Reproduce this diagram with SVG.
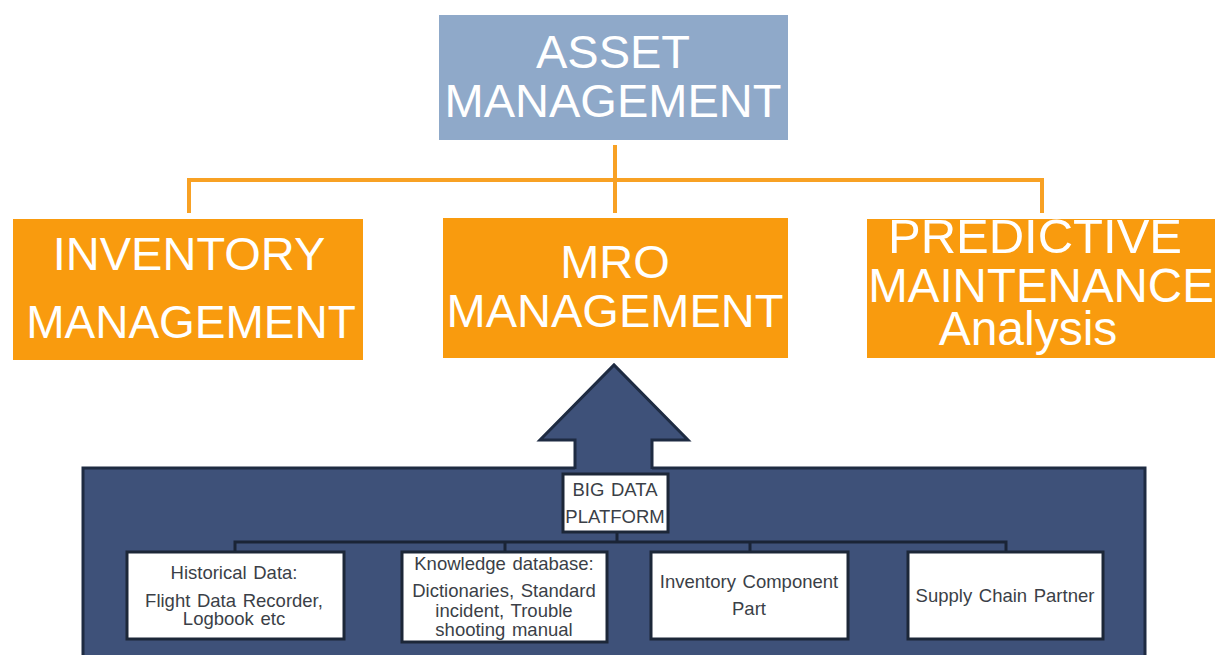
<svg xmlns="http://www.w3.org/2000/svg" width="1215" height="655" viewBox="0 0 1215 655">
<style>
.big{font-family:"Liberation Sans",Arial,sans-serif;fill:#ffffff;text-anchor:middle}
.small{font-family:"Liberation Sans",Arial,sans-serif;fill:#3b3f47;text-anchor:middle;font-size:18.5px;word-spacing:1.5px}
.orange{fill:#f99b0e}
.wbox{fill:#ffffff;stroke:#1c2738;stroke-width:3}
.oline{fill:none;stroke:#f8a124;stroke-width:4}
.dline{fill:none;stroke:#1a2436;stroke-width:3}
</style>
<rect width="1215" height="655" fill="#ffffff"/>
<g id="connectors">
<path class="oline" d="M615 145 V213 M189 213 V180 H1042 V213"/>
</g>
<g id="asset-management">
<rect x="439" y="15" width="349" height="125" fill="#8fa9c9"/>
<text class="big" font-size="47" x="613" y="68">ASSET</text>
<text class="big" font-size="47" x="613" y="117">MANAGEMENT</text>
</g>
<g id="inventory-management">
<rect class="orange" x="13" y="219" width="350" height="141"/>
<text class="big" font-size="47" x="189" y="270">INVENTORY</text>
<text class="big" font-size="46" x="191" y="338">MANAGEMENT</text>
</g>
<g id="mro-management">
<rect class="orange" x="443" y="218" width="345" height="140"/>
<text class="big" font-size="47" x="615" y="278">MRO</text>
<text class="big" font-size="47" x="615" y="327">MANAGEMENT</text>
</g>
<g id="predictive-maintenance">
<rect class="orange" x="867" y="219" width="348" height="139"/>
<text class="big" font-size="49" x="1035" y="253">PREDICTIVE</text>
<text class="big" font-size="47.5" x="1041" y="302">MAINTENANCE</text>
<text class="big" font-size="48" x="1028" y="345">Analysis</text>
</g>
<g id="big-data-platform-area">
<rect x="83" y="468" width="1062" height="200" fill="#3e5179" stroke="#1e2b42" stroke-width="3"/>
<path d="M575 471 V440 H540 L614 365 L688 440 H652 V471 Z" fill="#3e5179"/>
<path d="M575 469 V440 H540 L614 365 L688 440 H652 V469" fill="none" stroke="#1e2b42" stroke-width="3" stroke-linejoin="miter"/>
</g>
<g id="bottom-connectors">
<path class="dline" d="M617 532 V542 M235 553 V542 H1006 V553 M505 542 V553 M750 542 V553"/>
</g>
<g id="big-data-platform">
<rect class="wbox" x="563" y="474" width="105" height="58"/>
<text class="small" x="615" y="496">BIG DATA</text>
<text class="small" x="615" y="523">PLATFORM</text>
</g>
<g id="historical-data">
<rect class="wbox" x="127" y="552" width="217" height="87"/>
<text class="small" x="234" y="579">Historical Data:</text>
<text class="small" x="234" y="607">Flight Data Recorder,</text>
<text class="small" x="234" y="625">Logbook etc</text>
</g>
<g id="knowledge-database">
<rect class="wbox" x="402" y="552" width="205" height="90"/>
<text class="small" x="504" y="570">Knowledge database:</text>
<text class="small" x="504" y="597">Dictionaries, Standard</text>
<text class="small" x="504" y="617">incident, Trouble</text>
<text class="small" x="504" y="636">shooting manual</text>
</g>
<g id="inventory-component">
<rect class="wbox" x="651" y="552" width="197" height="87"/>
<text class="small" x="749" y="588">Inventory Component</text>
<text class="small" x="749" y="615">Part</text>
</g>
<g id="supply-chain">
<rect class="wbox" x="908" y="552" width="195" height="87"/>
<text class="small" x="1005" y="602">Supply Chain Partner</text>
</g>
</svg>
